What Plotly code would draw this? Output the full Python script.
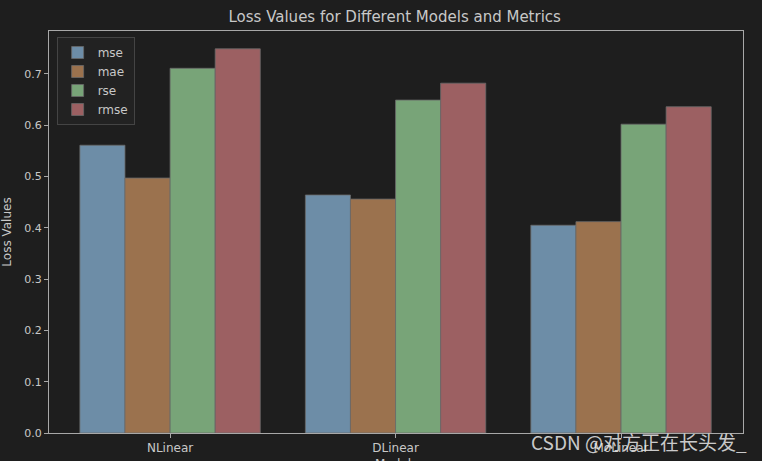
import plotly.graph_objects as go

models = ["NLinear", "DLinear", "MoLinear"]
metrics = ["mse", "mae", "rse", "rmse"]
mse = [0.561, 0.464, 0.405]
mae = [0.497, 0.456, 0.412]
rse = [0.711, 0.649, 0.602]
rmse = [0.749, 0.682, 0.636]
series = [mse, mae, rse, rmse]
colors = ["#6d8da7", "#9b724e", "#78a478", "#9c6062"]

BG = "#1e1e1e"
TXT = "#c8c8c8"
AX = "#a8a8a8"

fig = go.Figure()
for name, vals, c in zip(metrics, series, colors):
    fig.add_trace(go.Bar(
        x=models, y=vals, name=name,
        marker=dict(color=c, line=dict(color="#6a6a6a", width=0.8)),
    ))

fig.update_layout(
    width=762, height=461,
    paper_bgcolor=BG, plot_bgcolor=BG,
    margin=dict(l=49, r=19, t=31, b=28),
    barmode="group", bargap=0.2, bargroupgap=0,
    font=dict(family="DejaVu Sans", size=11, color=TXT),
    title=dict(text="Loss Values for Different Models and Metrics",
               x=0.518, xanchor="center", y=0.963, yanchor="middle",
               font=dict(size=15, color=TXT)),
    showlegend=True,
    legend=dict(x=0.011, y=0.985, xanchor="left", yanchor="top",
                bgcolor="#222222", bordercolor="#444444", borderwidth=1,
                font=dict(size=12, color=TXT), tracegroupgap=0,
                itemwidth=30),
    xaxis=dict(range=[-0.537, 2.541], showgrid=False, zeroline=False,
               automargin=False,
               showline=True, linecolor=AX, linewidth=1, mirror=True,
               ticks="outside", ticklen=4, tickcolor=AX,
               tickfont=dict(size=12, color=TXT)),
    yaxis=dict(range=[0, 0.7837], showgrid=False, zeroline=False,
               automargin=False,
               showline=True, linecolor=AX, linewidth=1, mirror=True,
               ticks="outside", ticklen=4, tickcolor=AX,
               tickvals=[0, 0.1, 0.2, 0.3, 0.4, 0.5, 0.6, 0.7],
               ticktext=["0.0", "0.1", "0.2", "0.3", "0.4", "0.5", "0.6", "0.7"],
               tickfont=dict(size=11, color=TXT),
               title=dict(text="Loss Values", standoff=10, font=dict(size=12, color=TXT))),
)

# x-axis title (mostly clipped at the bottom edge, as in the reference)
fig.add_annotation(
    text="Models", xref="paper", yref="paper",
    x=0.5, y=-0.077, xanchor="center", yanchor="middle", showarrow=False,
    font=dict(size=12, color=TXT),
)

fig.add_annotation(
    text="CSDN @对方正在长头发_", xref="paper", yref="paper",
    x=1.008, y=-0.02, xanchor="right", yanchor="middle", showarrow=False,
    font=dict(family="Noto Sans CJK SC", size=19, color="rgba(235,235,235,0.85)"),
)

fig.write_html(
    "out.html",
    config={"displayModeBar": False},
    post_script="document.body.style.margin='0';document.body.style.background='#1e1e1e';",
)
